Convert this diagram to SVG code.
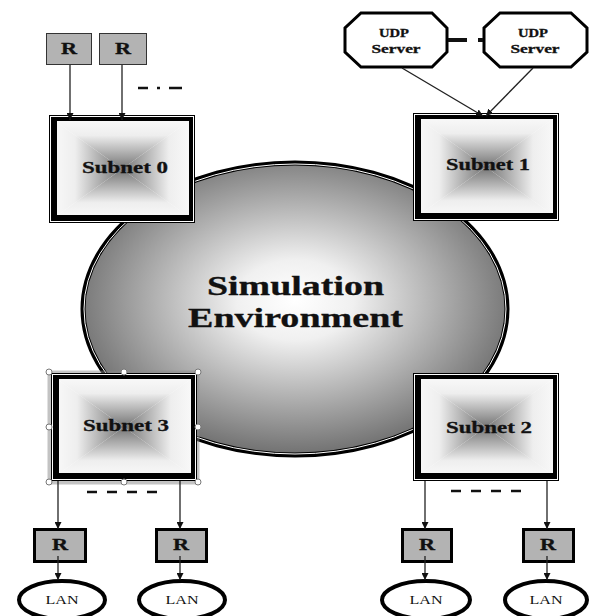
<svg xmlns="http://www.w3.org/2000/svg" xmlns:xlink="http://www.w3.org/1999/xlink" width="592" height="616" viewBox="0 0 592 616">
  <style>
    text { font-family: "Liberation Serif", "Times New Roman", serif; fill: #111; text-anchor: middle; }
    .b { font-weight: bold; stroke: #111; stroke-width: 0.3; }
    .conn line { stroke: #222; stroke-width: 1.3; marker-end: url(#arrow); }
    .dash { stroke: #111; stroke-width: 2.5; fill: none; }
    .rtop { fill: #b3b3b3; stroke: #333; stroke-width: 1; }
    .rbot { fill: #b3b3b3; stroke: #000; stroke-width: 3; }
    .lan { fill: #fff; stroke: #000; stroke-width: 4; }
    .oct { fill: #fff; stroke: #000; stroke-width: 3; }
    .handle { fill: #fff; stroke: #777; stroke-width: 1; }
  </style>
  <defs>
    <marker id="arrow" viewBox="0 0 10 10" refX="10" refY="5" markerWidth="7" markerHeight="7" markerUnits="userSpaceOnUse" orient="auto">
      <path d="M0,0 L10,5 L0,10 z" fill="#111"/>
    </marker>
    <radialGradient id="envFill" cx="0.5" cy="0.47" r="0.55">
      <stop offset="0" stop-color="#ffffff"/>
      <stop offset="0.25" stop-color="#f0f0f0"/>
      <stop offset="1" stop-color="#6a6a6a"/>
    </radialGradient>
    <!-- rectangular "from centre" shading built from four triangles -->
    <linearGradient id="gT" x1="0" y1="0" x2="0" y2="1">
      <stop offset="0" stop-color="#f8f8f8"/><stop offset="0.3" stop-color="#eeeeee"/><stop offset="1" stop-color="#747474"/>
    </linearGradient>
    <linearGradient id="gB" x1="0" y1="1" x2="0" y2="0">
      <stop offset="0" stop-color="#f8f8f8"/><stop offset="0.3" stop-color="#eeeeee"/><stop offset="1" stop-color="#747474"/>
    </linearGradient>
    <linearGradient id="gL" x1="0" y1="0" x2="1" y2="0">
      <stop offset="0" stop-color="#f8f8f8"/><stop offset="0.3" stop-color="#eeeeee"/><stop offset="1" stop-color="#747474"/>
    </linearGradient>
    <linearGradient id="gR" x1="1" y1="0" x2="0" y2="0">
      <stop offset="0" stop-color="#f8f8f8"/><stop offset="0.3" stop-color="#eeeeee"/><stop offset="1" stop-color="#747474"/>
    </linearGradient>
    <g id="subnetBox">
      <rect x="0.5" y="0.5" width="145" height="107" fill="#fff" stroke="#000" stroke-width="1"/>
      <polygon points="6,6 140,6 73,54" fill="url(#gT)"/>
      <polygon points="6,102 140,102 73,54" fill="url(#gB)"/>
      <polygon points="6,6 6,102 73,54" fill="url(#gL)"/>
      <polygon points="140,6 140,102 73,54" fill="url(#gR)"/>
      <rect x="4" y="4" width="138" height="100" fill="none" stroke="#000" stroke-width="4"/>
      <!-- heavier left and bottom edges -->
      <rect x="2" y="2" width="6" height="104" fill="#000"/>
      <rect x="2" y="100" width="142" height="6" fill="#000"/>
    </g>
  </defs>

  <rect width="592" height="616" fill="#fff"/>

  <!-- central environment -->
  <g id="environment">
    <ellipse cx="295" cy="309" rx="212" ry="146" fill="url(#envFill)" stroke="#000" stroke-width="5"/>
    <ellipse cx="295" cy="309" rx="211" ry="145" fill="none" stroke="#fff" stroke-width="1"/>
    <text class="b" x="295.5" y="295" font-size="28" textLength="177" lengthAdjust="spacingAndGlyphs">Simulation</text>
    <text class="b" x="295.5" y="327" font-size="28" textLength="215" lengthAdjust="spacingAndGlyphs">Environment</text>
  </g>

  <!-- subnets -->
  <g id="subnet0">
    <use xlink:href="#subnetBox" transform="translate(49,115)"/>
    <text class="b" x="125" y="173" font-size="17" textLength="86" lengthAdjust="spacingAndGlyphs">Subnet 0</text>
  </g>
  <g id="subnet1">
    <use xlink:href="#subnetBox" transform="translate(413,113)"/>
    <text class="b" x="488" y="170" font-size="17" textLength="84" lengthAdjust="spacingAndGlyphs">Subnet 1</text>
  </g>
  <g id="subnet3">
    <rect x="49.5" y="372.5" width="148" height="110" fill="none" stroke="#888" stroke-width="4" stroke-dasharray="1 1"/>
    <use xlink:href="#subnetBox" transform="translate(51,373)"/>
    <text class="b" x="126" y="431" font-size="17" textLength="86" lengthAdjust="spacingAndGlyphs">Subnet 3</text>
    <circle class="handle" cx="49" cy="372" r="3"/>
    <circle class="handle" cx="124" cy="372" r="3"/>
    <circle class="handle" cx="198" cy="372" r="3"/>
    <circle class="handle" cx="49" cy="427" r="3"/>
    <circle class="handle" cx="198" cy="427" r="3"/>
    <circle class="handle" cx="49" cy="482" r="3"/>
    <circle class="handle" cx="124" cy="482" r="3"/>
    <circle class="handle" cx="198" cy="482" r="3"/>
  </g>
  <g id="subnet2">
    <use xlink:href="#subnetBox" transform="translate(413,373)"/>
    <text class="b" x="489" y="433" font-size="17" textLength="86" lengthAdjust="spacingAndGlyphs">Subnet 2</text>
  </g>

  <!-- routers feeding subnet 0 -->
  <g id="r-top-1">
    <rect class="rtop" x="46.5" y="33.5" width="45" height="31"/>
    <text class="b" x="69" y="54" font-size="16" textLength="16" lengthAdjust="spacingAndGlyphs">R</text>
  </g>
  <g id="r-top-2">
    <rect class="rtop" x="99.5" y="33.5" width="47" height="31"/>
    <text class="b" x="123" y="54" font-size="16" textLength="16" lengthAdjust="spacingAndGlyphs">R</text>
  </g>

  <!-- UDP servers -->
  <g id="udp-1">
    <polygon class="oct" points="361,13 432,13 447,28 447,52 432,67 361,67 345,52 345,28"/>
    <text class="b" x="394" y="37" font-size="12" textLength="30" lengthAdjust="spacingAndGlyphs">UDP</text>
    <text class="b" x="396" y="53" font-size="12" textLength="49" lengthAdjust="spacingAndGlyphs">Server</text>
  </g>
  <g id="udp-2">
    <polygon class="oct" points="500,13 571,13 587,28 587,52 571,67 500,67 484,52 484,28"/>
    <text class="b" x="533" y="37" font-size="12" textLength="30" lengthAdjust="spacingAndGlyphs">UDP</text>
    <text class="b" x="535" y="53" font-size="12" textLength="49" lengthAdjust="spacingAndGlyphs">Server</text>
  </g>

  <!-- routers and LANs under subnet 3 -->
  <g id="r-s3-1">
    <rect class="rbot" x="34.5" y="529.5" width="51" height="32"/>
    <text class="b" x="60" y="550" font-size="16" textLength="16" lengthAdjust="spacingAndGlyphs">R</text>
  </g>
  <g id="r-s3-2">
    <rect class="rbot" x="156.5" y="529.5" width="50" height="32"/>
    <text class="b" x="181" y="550" font-size="16" textLength="16" lengthAdjust="spacingAndGlyphs">R</text>
  </g>
  <g id="lan-s3-1">
    <ellipse class="lan" cx="62" cy="600" rx="43" ry="19"/>
    <text x="62" y="604" font-size="13" textLength="33" lengthAdjust="spacingAndGlyphs">LAN</text>
  </g>
  <g id="lan-s3-2">
    <ellipse class="lan" cx="182" cy="600" rx="43" ry="19"/>
    <text x="182" y="604" font-size="13" textLength="33" lengthAdjust="spacingAndGlyphs">LAN</text>
  </g>

  <!-- routers and LANs under subnet 2 -->
  <g id="r-s2-1">
    <rect class="rbot" x="402.5" y="529.5" width="49" height="32"/>
    <text class="b" x="427" y="550" font-size="16" textLength="16" lengthAdjust="spacingAndGlyphs">R</text>
  </g>
  <g id="r-s2-2">
    <rect class="rbot" x="523.5" y="529.5" width="50" height="32"/>
    <text class="b" x="548" y="550" font-size="16" textLength="16" lengthAdjust="spacingAndGlyphs">R</text>
  </g>
  <g id="lan-s2-1">
    <ellipse class="lan" cx="426" cy="600" rx="44" ry="19"/>
    <text x="426" y="604" font-size="13" textLength="33" lengthAdjust="spacingAndGlyphs">LAN</text>
  </g>
  <g id="lan-s2-2">
    <ellipse class="lan" cx="546" cy="600" rx="41" ry="19"/>
    <text x="546" y="604" font-size="13" textLength="33" lengthAdjust="spacingAndGlyphs">LAN</text>
  </g>

  <!-- connectors -->
  <g class="conn">
    <line x1="70" y1="65" x2="70" y2="120"/>
    <line x1="122" y1="65" x2="122" y2="120"/>
    <line x1="402" y1="68" x2="483" y2="116"/>
    <line x1="533" y1="68" x2="486" y2="116"/>
    <line x1="58" y1="481" x2="58" y2="529"/>
    <line x1="180" y1="481" x2="180" y2="529"/>
    <line x1="425" y1="481" x2="425" y2="529"/>
    <line x1="547" y1="481" x2="547" y2="529"/>
    <line x1="58" y1="556" x2="58" y2="580"/>
    <line x1="180" y1="556" x2="180" y2="580"/>
    <line x1="425" y1="556" x2="425" y2="580"/>
    <line x1="547" y1="556" x2="547" y2="580"/>
  </g>

  <!-- "more of the same" dash marks -->
  <g id="ellipsis-marks">
    <path class="dash" d="M138,88 H148 M157,88 H160 M169,88 H182"/>
    <path d="M448,40 H467 M478,40 H483" stroke="#111" stroke-width="4" fill="none"/>
    <path class="dash" d="M87,492 H157" stroke-dasharray="10 10"/>
    <path class="dash" d="M451,491 H521" stroke-dasharray="10 10"/>
  </g>
</svg>
